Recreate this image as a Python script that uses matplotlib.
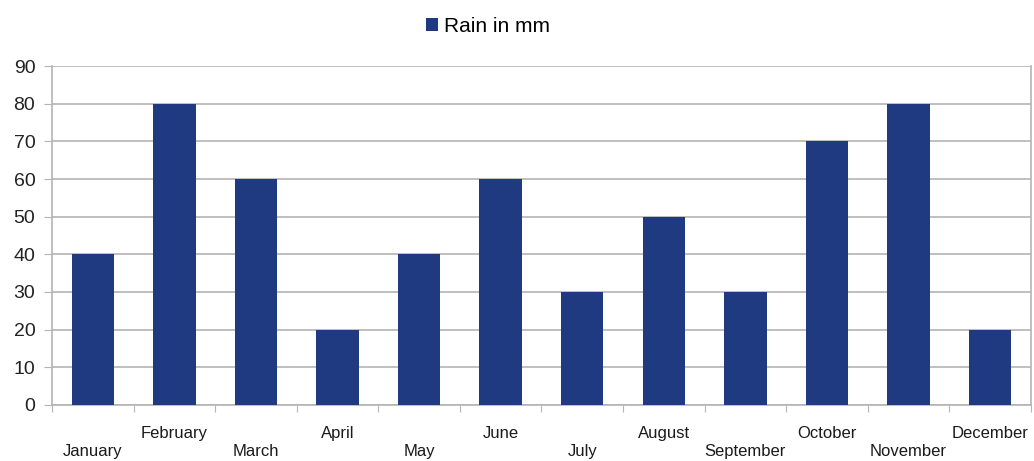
import numpy as np
import matplotlib
matplotlib.use("Agg")
import matplotlib.pyplot as plt
from matplotlib.patches import Patch

plt.rcParams["font.family"] = ["Liberation Sans", "DejaVu Sans"]

months = ["January", "February", "March", "April", "May", "June",
          "July", "August", "September", "October", "November", "December"]
rain = [40, 80, 60, 20, 40, 60, 30, 50, 30, 70, 80, 20]
series_name = "Rain in mm"

bar_color = "#1f3a80"
grid_color = "#b4b4b4"

fig = plt.figure(figsize=(10.34, 4.61), dpi=100)
ax = fig.add_axes([0.0503, 0.1215, 0.9467, 0.7353])

x = np.arange(len(months))
ax.bar(x, rain, width=0.52, color=bar_color, zorder=3)

ax.set_xlim(-0.5, len(months) - 0.5)
ax.set_ylim(0, 90)
ax.set_yticks(np.arange(0, 91, 10))
ax.yaxis.grid(True, color=grid_color, linewidth=1.2, zorder=0)
ax.tick_params(axis="y", labelsize=14, labelcolor="#222222", length=6,
               color=grid_color, pad=6)

# category boundary ticks, labels drawn separately (staggered)
ax.set_xticks(np.arange(-0.5, len(months), 1.0))
ax.set_xticklabels([])
ax.tick_params(axis="x", length=5, color=grid_color, direction="out")
for i, m in enumerate(months):
    yoff = -0.138 if i % 2 == 0 else -0.083
    ax.text(i, yoff, m, transform=ax.get_xaxis_transform(),
            ha="center", va="center", fontsize=12, color="#1a1a1a")

for side in ["left", "right", "bottom"]:
    ax.spines[side].set_color(grid_color)
    ax.spines[side].set_linewidth(1.2)
ax.spines["top"].set_visible(False)

handle = Patch(facecolor=bar_color, edgecolor="none", label=series_name)
fig.legend(handles=[handle], loc="center", bbox_to_anchor=(0.472, 0.943),
           frameon=False, fontsize=15, handlelength=0.55, handleheight=0.55,
           handletextpad=0.3)

fig.savefig("out.png", dpi=100)
